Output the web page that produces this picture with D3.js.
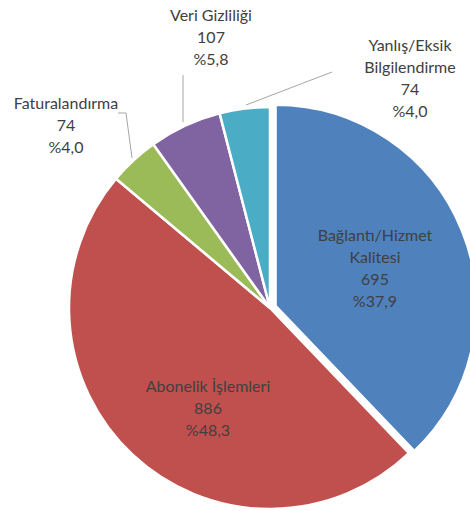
<!DOCTYPE html>
<html>
<head>
<meta charset="utf-8">
<script src="https://cdn.jsdelivr.net/npm/d3@7"></script>
<style>
  html, body { margin: 0; padding: 0; background: #fff; }
  svg { display: block; }
  .lbl { font-family: Lato, "Open Sans", sans-serif; font-size: 16px; fill: #404040; }
  .leader { fill: none; stroke: #a6a6a6; stroke-width: 1; }
</style>
</head>
<body>
<svg id="chart" width="470" height="511"></svg>
<script>
  // Slice categories and counts, clockwise from 12 o'clock.
  const categories = ['Bağlantı/Hizmet Kalitesi', 'Abonelik İşlemleri', 'Faturalandırma', 'Veri Gizliliği', 'Yanlış/Eksik Bilgilendirme'];
  const counts = [695, 886, 74, 107, 74];
  // Label text lines for the category name (how they wrap).
  const nameLines = [
    ['Bağlantı/Hizmet', 'Kalitesi'],
    ['Abonelik İşlemleri'],
    ['Faturalandırma'],
    ['Veri Gizliliği'],
    ['Yanlış/Eksik', 'Bilgilendirme'],
  ];
  const colors = ['#4f81bd', '#c0504d', '#9bbb59', '#8064a2', '#4bacc6'];

  const W = 470, H = 511;
  const cx = 270, cy = 308, R = 201;
  const explode = [6, 0, 0, 0, 0];

  // Label block centres relative to the pie centre, plus leader polylines.
  const labelAt = [[105, -40], [-62, 100], [-204, -183], [-59, -271], [140, -230]];
  const leaders = [
    null,
    null,
    [[-152, -195], [-144, -195], [-138, -150]],
    [[-87, -233], [-87, -186]],
    [[62, -236], [-24, -203]],
  ];

  const total = d3.sum(counts);
  const pct = counts.map(v => '%' + (v / total * 100).toFixed(1).replace('.', ','));

  const svg = d3.select('#chart');
  const g = svg.append('g').attr('transform', `translate(${cx},${cy})`);

  const pie = d3.pie().sort(null).value(d => d)(counts);
  const arc = d3.arc().innerRadius(0).outerRadius(R);

  g.selectAll('path.slice')
    .data(pie)
    .join('path')
    .attr('class', 'slice')
    .attr('d', arc)
    .attr('fill', (d, i) => colors[i])
    .attr('stroke', '#fff')
    .attr('stroke-width', 2.5)
    .attr('transform', (d, i) => {
      const a = (d.startAngle + d.endAngle) / 2;
      return `translate(${Math.sin(a) * explode[i]},${-Math.cos(a) * explode[i]})`;
    });

  const line = d3.line();
  g.selectAll('path.leader')
    .data(leaders.filter(l => l))
    .join('path')
    .attr('class', 'leader')
    .attr('d', line);

  const lineH = 22;
  categories.forEach((c, i) => {
    const lines = nameLines[i].concat([String(counts[i]), pct[i]]);
    const [lx, ly] = labelAt[i];
    const y0 = ly - (lines.length - 1) * lineH / 2;
    const t = g.append('text')
      .attr('class', 'lbl')
      .attr('text-anchor', 'middle');
    lines.forEach((s, k) => {
      t.append('tspan')
        .attr('x', lx)
        .attr('y', y0 + k * lineH)
        .attr('dy', '0.35em')
        .text(s);
    });
  });
</script>
</body>
</html>
